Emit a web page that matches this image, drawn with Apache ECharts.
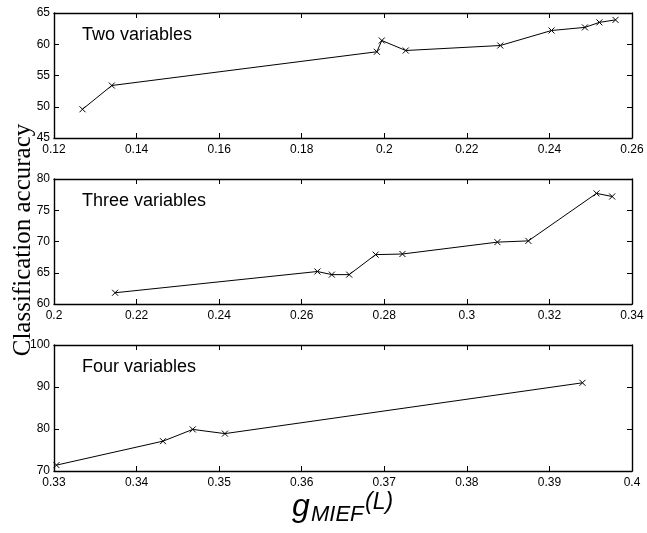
<!DOCTYPE html>
<html>
<head>
<meta charset="utf-8">
<script src="https://cdn.jsdelivr.net/npm/echarts@6/dist/echarts.min.js"></script>
<style>
  html, body { margin: 0; padding: 0; background: #fff; }
  #chart { width: 647px; height: 533px; }
</style>
</head>
<body>
<div id="chart"></div>
<script>
// g_MIEF(L) values and classification accuracy for each number of variables
const twoX = [0.1269, 0.1340, 0.1982, 0.1994, 0.2052, 0.2281, 0.2405, 0.2486, 0.2521, 0.2560];
const twoY = [49.6, 53.4, 58.8, 60.6, 59.0, 59.8, 62.2, 62.7, 63.5, 63.9];

const threeX = [0.2148, 0.2638, 0.2673, 0.2715, 0.2779, 0.2844, 0.3074, 0.3149, 0.3314, 0.3352];
const threeY = [61.8, 65.2, 64.7, 64.7, 67.9, 68.0, 69.9, 70.1, 77.7, 77.2];

const fourX = [0.3303, 0.3432, 0.3468, 0.3507, 0.3940];
const fourY = [71.4, 77.1, 79.9, 78.9, 91.0];

const panelTitles = ['Two variables', 'Three variables', 'Four variables'];

// Axis ranges per panel: [min, max, interval]
const xRanges = [[0.12, 0.26, 0.02], [0.2, 0.34, 0.02], [0.33, 0.4, 0.01]];
const yRanges = [[45, 65, 5], [60, 80, 5], [70, 100, 10]];

const panels = [[twoX, twoY], [threeX, threeY], [fourX, fourY]];

const SANS = '"Liberation Sans", Arial, Helvetica, sans-serif';
const SERIF = '"Liberation Serif", "Times New Roman", serif';

const gridBoxes = [
  { left: 54, right: 15, top: 13, height: 125 },
  { left: 54, right: 15, top: 179, height: 125 },
  { left: 54, right: 15, top: 345, height: 126 }
];

const fmt = v => String(parseFloat(Number(v).toFixed(4)));

const grids = [], xAxes = [], yAxes = [], series = [], graphics = [];

panels.forEach((p, i) => {
  grids.push(Object.assign({ show: false, containLabel: false }, gridBoxes[i]));
  const [xmin, xmax, xint] = xRanges[i];
  const [ymin, ymax, yint] = yRanges[i];
  const lineStyle = { color: '#000', width: 1.4 };
  const tick = { show: true, inside: true, length: 5, lineStyle: { color: '#000', width: 1 } };

  // bottom axis with labels, top axis mirrored ticks only
  xAxes.push({
    type: 'value', gridIndex: i, position: 'bottom', min: xmin, max: xmax, interval: xint,
    axisLine: { show: true, onZero: false, lineStyle },
    axisTick: tick, splitLine: { show: false },
    axisLabel: { show: true, color: '#000', fontFamily: SANS, fontSize: 12, margin: 6,
                 showMinLabel: true, showMaxLabel: true, formatter: fmt }
  });
  xAxes.push({
    type: 'value', gridIndex: i, position: 'top', min: xmin, max: xmax, interval: xint,
    axisLine: { show: true, onZero: false, lineStyle },
    axisTick: tick, splitLine: { show: false }, axisLabel: { show: false }
  });
  yAxes.push({
    type: 'value', gridIndex: i, position: 'left', min: ymin, max: ymax, interval: yint,
    axisLine: { show: true, onZero: false, lineStyle },
    axisTick: tick, splitLine: { show: false },
    axisLabel: { show: true, color: '#000', fontFamily: SANS, fontSize: 12, margin: 4,
                 showMinLabel: true, showMaxLabel: true }
  });
  yAxes.push({
    type: 'value', gridIndex: i, position: 'right', min: ymin, max: ymax, interval: yint,
    axisLine: { show: true, onZero: false, lineStyle },
    axisTick: tick, splitLine: { show: false }, axisLabel: { show: false }
  });

  series.push({
    type: 'line',
    xAxisIndex: i * 2,
    yAxisIndex: i * 2,
    data: p[0].map((x, k) => [x, p[1][k]]),
    symbol: 'path://M0,0L10,10M10,0L0,10',
    symbolSize: 6,
    showSymbol: true,
    itemStyle: { color: 'rgba(0,0,0,0)', borderColor: '#000', borderWidth: 1 },
    lineStyle: { color: '#000', width: 1 },
    animation: false,
    z: 3
  });

  graphics.push({
    type: 'text', left: 82, top: gridBoxes[i].top + 13,
    style: { text: panelTitles[i], font: '18px ' + SANS, fill: '#000' }
  });
});

// shared y-axis title
graphics.push({
  type: 'text', x: 23, y: 240, rotation: Math.PI / 2,
  style: { text: 'Classification accuracy', font: '25px ' + SERIF, fill: '#000',
           align: 'center', verticalAlign: 'middle' }
});

// x-axis title: g with subscript MIEF and superscript (L)
graphics.push({
  type: 'text', x: 292, y: 507,
  style: { text: 'g', font: 'italic 32px ' + SANS, fill: '#000', align: 'left', verticalAlign: 'middle' }
});
graphics.push({
  type: 'text', x: 311, y: 514.5,
  style: { text: 'MIEF', font: 'italic 22px ' + SANS, fill: '#000', align: 'left', verticalAlign: 'middle' }
});
graphics.push({
  type: 'text', x: 365, y: 502.5,
  style: { text: '(L)', font: 'italic 23px ' + SANS, fill: '#000', align: 'left', verticalAlign: 'middle' }
});

const chart = echarts.init(document.getElementById('chart'), null, { renderer: 'canvas' });
chart.setOption({
  animation: false,
  backgroundColor: '#fff',
  grid: grids,
  xAxis: xAxes,
  yAxis: yAxes,
  series: series,
  graphic: graphics
});
</script>
</body>
</html>
